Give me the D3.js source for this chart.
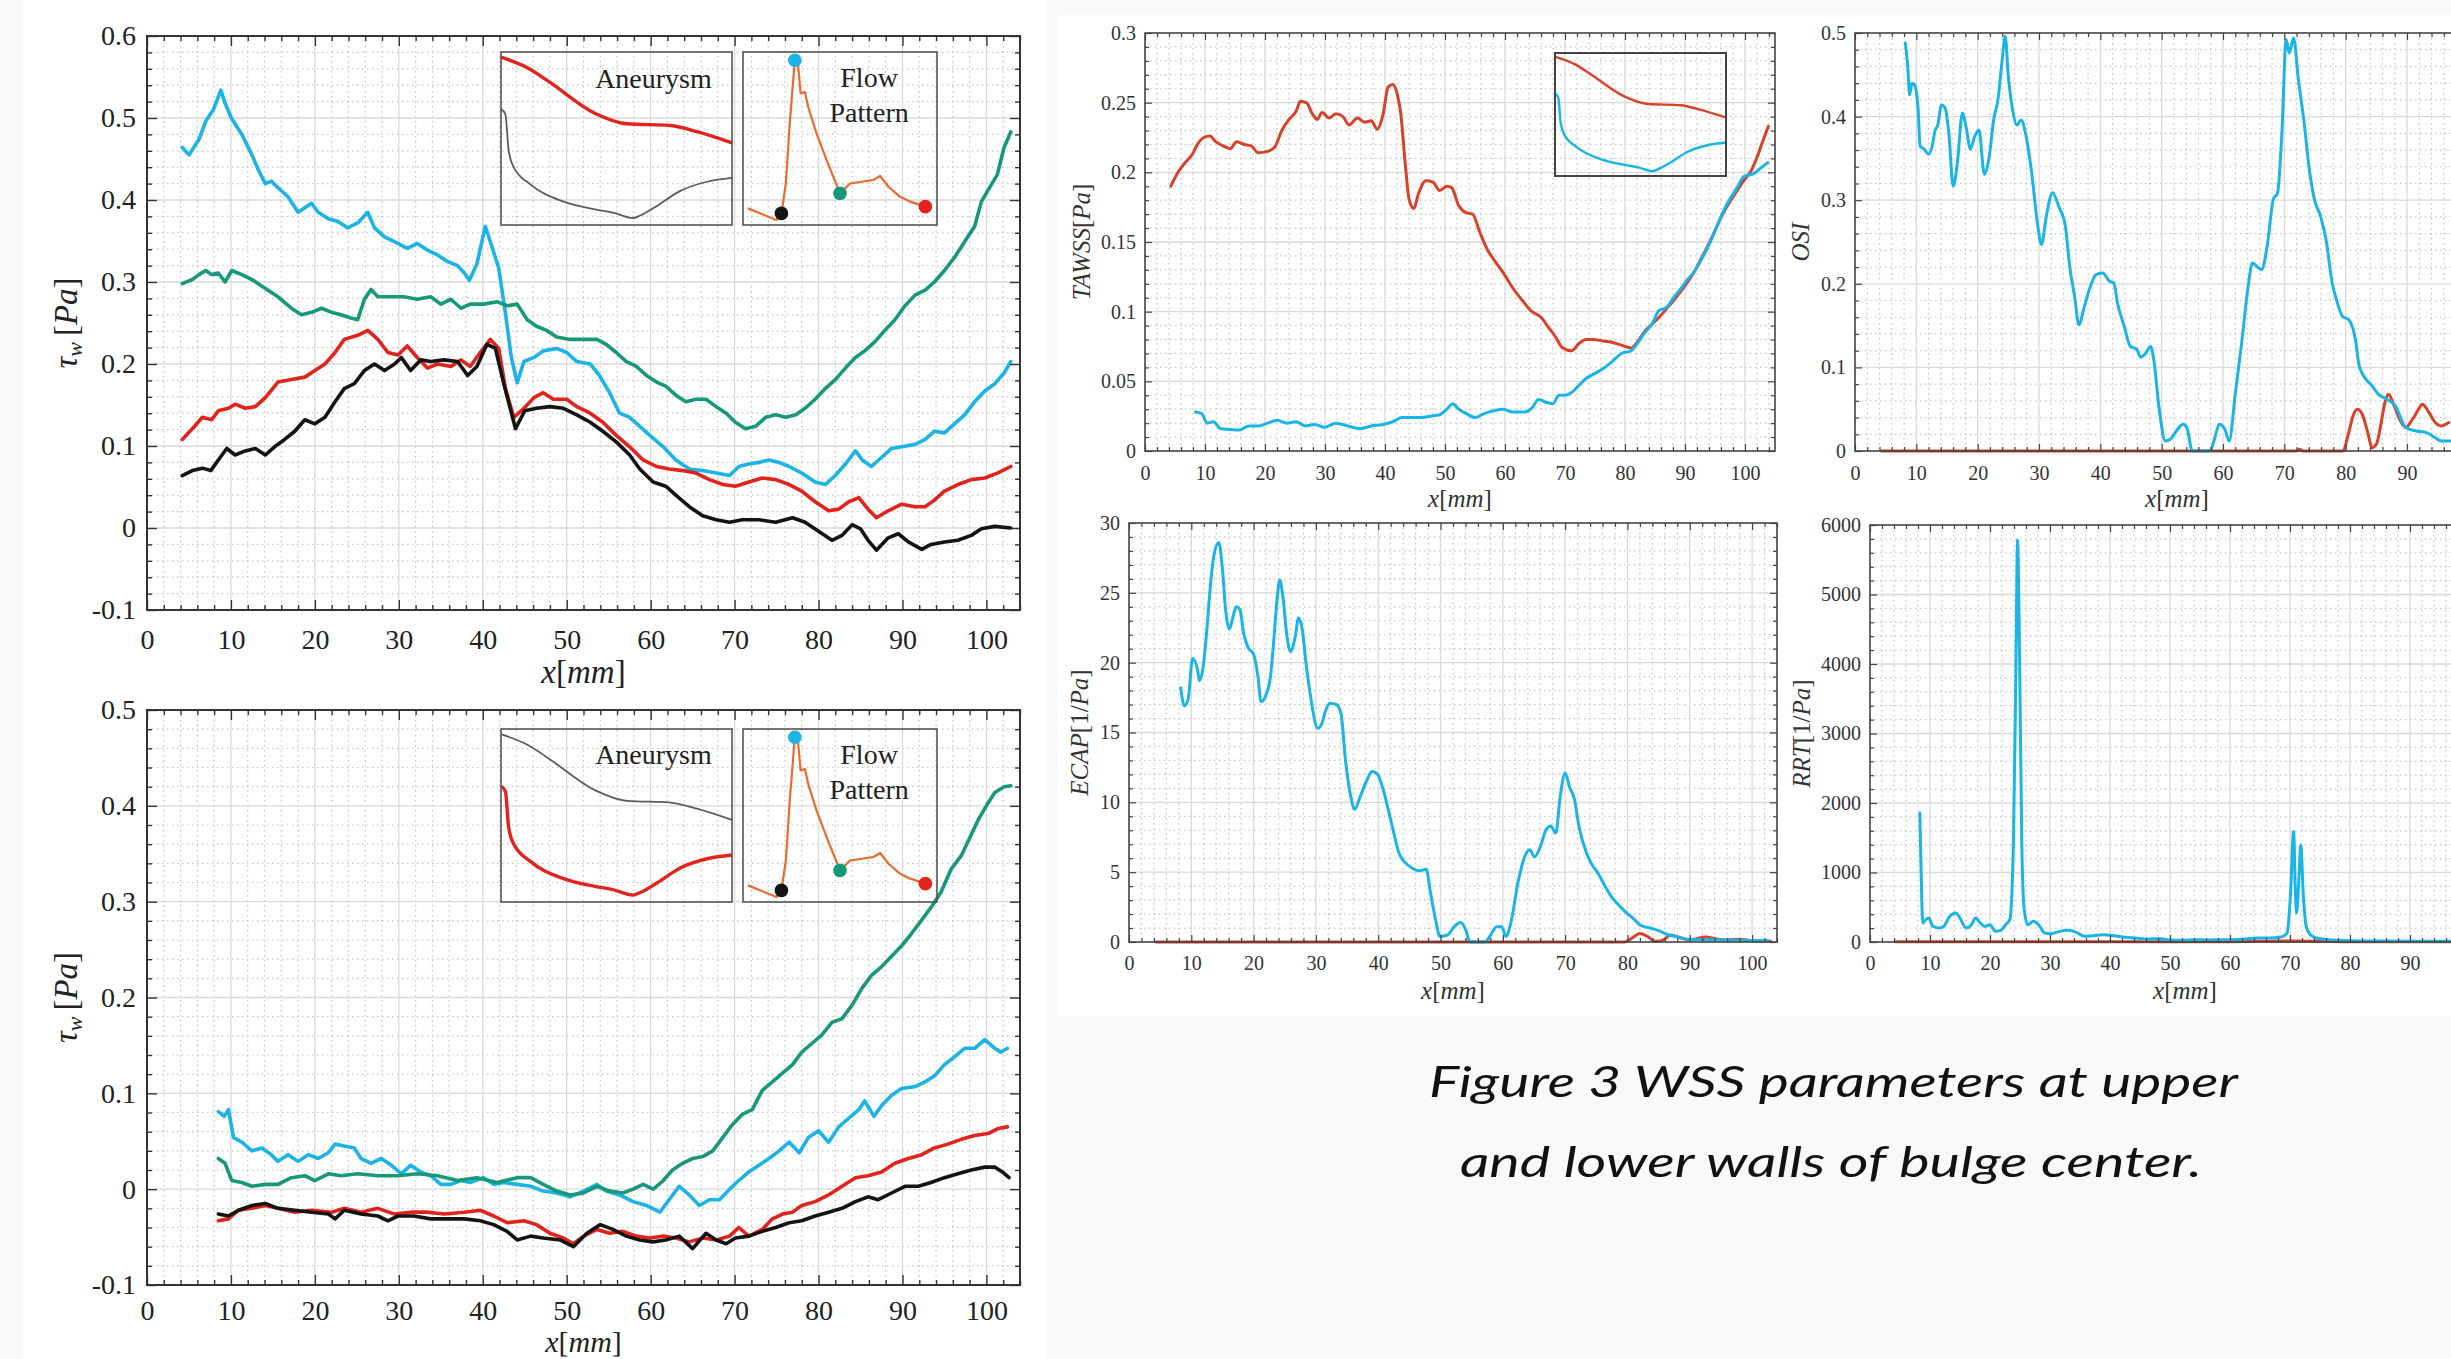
<!DOCTYPE html>
<html>
<head>
<meta charset="utf-8">
<script src="https://cdn.jsdelivr.net/npm/d3@7"></script>
<style>
  html, body { margin: 0; padding: 0; background: #f8f9fb; }
  svg { display: block; }
</style>
</head>
<body>
<svg id="fig" width="2451" height="1359"></svg>
<script>
// ---------- tick labels ----------
const xTicks100 = [0, 10, 20, 30, 40, 50, 60, 70, 80, 90, 100];
const tauUpperTicks = [-0.1, 0, 0.1, 0.2, 0.3, 0.4, 0.5, 0.6];
const tauLowerTicks = [-0.1, 0, 0.1, 0.2, 0.3, 0.4, 0.5];
const tawssTicks = [0, 0.05, 0.1, 0.15, 0.2, 0.25, 0.3];
const osiTicks = [0, 0.1, 0.2, 0.3, 0.4, 0.5];
const ecapTicks = [0, 5, 10, 15, 20, 25, 30];
const rrtTicks = [0, 1000, 2000, 3000, 4000, 5000, 6000];

// ---------- upper wall, wall shear stress at four instants [x mm, Pa] ----------
const upperPeak = [[4.2,0.464],[5.0,0.455],[6.2,0.474],[7.0,0.496],[7.9,0.51],[8.8,0.534],[9.3,0.518],[10.1,0.499],[11.3,0.48],[12.5,0.455],[13.3,0.436],[14.1,0.42],[14.8,0.423],[15.6,0.415],[16.8,0.404],[18.0,0.385],[19.6,0.396],[20.4,0.385],[21.6,0.377],[22.7,0.374],[23.9,0.366],[25.1,0.372],[26.3,0.385],[27.1,0.366],[28.3,0.355],[29.9,0.347],[31.0,0.341],[32.2,0.347],[33.4,0.339],[34.6,0.333],[35.8,0.325],[37.0,0.32],[37.8,0.311],[38.4,0.302],[39.3,0.322],[40.3,0.368],[40.9,0.349],[41.9,0.317],[42.7,0.262],[43.4,0.208],[44.1,0.177],[44.9,0.203],[46.1,0.208],[47.2,0.216],[48.8,0.219],[50.0,0.214],[51.2,0.203],[52.8,0.2],[53.9,0.186],[55.1,0.165],[56.3,0.14],[57.5,0.135],[58.7,0.124],[59.9,0.113],[61.5,0.099],[63.0,0.083],[64.6,0.072],[66.2,0.07],[67.8,0.067],[69.4,0.064],[70.5,0.075],[71.7,0.078],[72.9,0.08],[74.1,0.083],[75.3,0.08],[76.5,0.075],[78.0,0.067],[79.6,0.056],[80.8,0.053],[82.0,0.064],[83.2,0.078],[84.4,0.094],[85.2,0.083],[86.3,0.075],[87.5,0.086],[88.7,0.097],[89.9,0.099],[91.5,0.102],[92.7,0.108],[93.8,0.118],[95.0,0.116],[96.2,0.127],[97.4,0.138],[98.6,0.154],[99.8,0.167],[101.0,0.176],[102.1,0.189],[102.9,0.203]];
const upperDecel = [[4.2,0.298],[5.4,0.303],[6.2,0.309],[7.0,0.314],[7.7,0.309],[8.5,0.311],[9.3,0.3],[10.1,0.314],[11.3,0.309],[12.5,0.303],[14.1,0.292],[15.6,0.282],[17.2,0.268],[18.4,0.26],[19.6,0.263],[20.8,0.268],[22.0,0.263],[23.1,0.26],[24.3,0.256],[25.1,0.254],[25.9,0.279],[26.7,0.291],[27.5,0.282],[29.1,0.282],[30.6,0.282],[32.2,0.279],[33.8,0.282],[35.0,0.273],[36.2,0.279],[37.4,0.268],[38.5,0.273],[40.1,0.273],[41.7,0.276],[42.9,0.271],[44.1,0.273],[45.3,0.254],[46.4,0.246],[47.6,0.241],[48.8,0.233],[50.4,0.23],[52.0,0.23],[53.6,0.23],[54.7,0.224],[55.9,0.214],[57.1,0.203],[58.3,0.197],[59.5,0.186],[60.7,0.178],[61.8,0.173],[63.0,0.162],[64.2,0.154],[65.4,0.157],[66.6,0.157],[67.8,0.148],[69.0,0.14],[70.1,0.129],[71.3,0.121],[72.5,0.124],[73.7,0.135],[74.9,0.138],[76.1,0.135],[77.3,0.138],[78.4,0.146],[79.6,0.157],[80.8,0.17],[82.0,0.181],[83.2,0.195],[84.4,0.208],[85.5,0.216],[86.7,0.227],[87.9,0.241],[89.1,0.254],[90.3,0.271],[91.5,0.284],[92.7,0.29],[93.8,0.3],[95.0,0.314],[96.2,0.33],[97.4,0.349],[98.6,0.368],[99.4,0.398],[100.2,0.412],[101.3,0.431],[102.1,0.464],[102.9,0.483]];
const upperLate = [[4.2,0.108],[5.4,0.121],[6.6,0.135],[7.7,0.132],[8.5,0.143],[9.7,0.146],[10.5,0.151],[11.7,0.146],[12.9,0.148],[14.1,0.159],[15.6,0.178],[17.2,0.181],[18.8,0.184],[20.0,0.192],[21.2,0.2],[22.4,0.214],[23.5,0.23],[25.1,0.235],[26.3,0.241],[27.5,0.23],[28.7,0.214],[29.9,0.211],[31.0,0.222],[32.2,0.208],[33.4,0.195],[34.6,0.2],[36.2,0.197],[37.4,0.205],[38.5,0.197],[39.7,0.214],[40.9,0.23],[41.9,0.219],[42.7,0.17],[43.7,0.135],[44.9,0.146],[46.1,0.159],[47.2,0.165],[48.4,0.157],[50.0,0.157],[51.2,0.148],[52.8,0.14],[54.3,0.129],[55.9,0.113],[57.5,0.099],[59.1,0.083],[60.7,0.075],[62.2,0.072],[63.8,0.07],[65.4,0.067],[67.0,0.059],[68.6,0.053],[70.1,0.051],[71.7,0.056],[73.3,0.061],[74.9,0.059],[76.5,0.053],[78.0,0.045],[79.6,0.032],[81.2,0.021],[82.4,0.023],[83.6,0.032],[84.8,0.037],[85.9,0.023],[86.9,0.0125],[88.3,0.021],[89.9,0.029],[91.5,0.026],[92.7,0.026],[93.8,0.034],[95.0,0.045],[96.6,0.053],[98.2,0.059],[99.8,0.061],[101.3,0.067],[102.9,0.075]];
const upperStart = [[4.2,0.064],[5.4,0.07],[6.6,0.073],[7.6,0.07],[8.5,0.083],[9.5,0.097],[10.5,0.089],[11.7,0.094],[12.9,0.097],[14.1,0.089],[15.2,0.099],[16.4,0.108],[17.6,0.118],[18.8,0.132],[20.0,0.127],[21.2,0.135],[22.4,0.154],[23.5,0.17],[24.7,0.176],[25.9,0.192],[27.1,0.2],[28.3,0.192],[29.5,0.2],[30.3,0.208],[31.4,0.192],[32.6,0.205],[33.8,0.203],[35.4,0.205],[37.0,0.203],[38.2,0.186],[39.3,0.197],[40.5,0.224],[41.5,0.219],[42.5,0.176],[43.9,0.121],[45.0,0.143],[46.4,0.146],[48.0,0.148],[49.6,0.146],[51.2,0.138],[52.8,0.129],[54.3,0.118],[55.9,0.105],[57.5,0.089],[58.7,0.072],[60.3,0.056],[61.8,0.051],[63.0,0.04],[64.6,0.026],[66.2,0.015],[67.8,0.01],[69.4,0.007],[70.9,0.01],[72.9,0.01],[74.9,0.007],[76.9,0.0125],[78.4,0.007],[80.0,-0.004],[81.6,-0.015],[82.8,-0.009],[84.0,0.004],[85.0,-0.001],[85.9,-0.015],[86.9,-0.027],[88.3,-0.012],[89.5,-0.007],[90.7,-0.017],[92.3,-0.026],[93.4,-0.02],[95.0,-0.017],[96.6,-0.015],[98.2,-0.009],[99.4,-0.001],[101.0,0.002],[102.9,0.0]];

// ---------- lower wall, wall shear stress at four instants [x mm, Pa] ----------
const lowerPeak = [[8.5,0.081],[9.2,0.076],[9.7,0.083],[10.3,0.054],[11.3,0.049],[12.5,0.04],[13.7,0.043],[14.8,0.036],[15.6,0.029],[16.8,0.036],[18.0,0.029],[19.2,0.036],[20.4,0.032],[21.6,0.038],[22.4,0.047],[23.5,0.045],[24.7,0.043],[25.5,0.032],[26.7,0.027],[27.9,0.032],[29.1,0.025],[30.3,0.016],[31.4,0.025],[32.6,0.018],[33.8,0.014],[35.0,0.005],[36.2,0.005],[37.4,0.009],[38.5,0.007],[40.1,0.012],[41.3,0.005],[42.5,0.007],[44.1,0.005],[45.7,0.003],[47.2,-0.002],[48.8,-0.004],[50.4,-0.008],[52.0,-0.002],[53.6,0.005],[54.7,-0.002],[56.3,-0.006],[57.9,-0.013],[59.5,-0.017],[61.1,-0.024],[62.2,-0.011],[63.4,0.003],[64.6,-0.006],[65.8,-0.017],[67.0,-0.011],[68.2,-0.011],[69.4,0.0],[70.5,0.009],[71.7,0.018],[72.9,0.025],[74.1,0.032],[75.3,0.04],[76.5,0.049],[77.7,0.038],[78.8,0.054],[80.0,0.061],[81.2,0.049],[82.4,0.065],[83.6,0.074],[84.8,0.083],[85.5,0.092],[86.6,0.076],[87.5,0.087],[88.7,0.098],[89.9,0.105],[91.5,0.107],[92.7,0.112],[93.8,0.118],[95.0,0.13],[96.2,0.138],[97.4,0.147],[98.6,0.147],[99.8,0.156],[101.0,0.147],[101.7,0.143],[102.5,0.147]];
const lowerDecel = [[8.5,0.032],[9.3,0.027],[10.1,0.009],[11.3,0.007],[12.5,0.003],[14.1,0.005],[15.6,0.005],[17.2,0.012],[18.8,0.014],[20.0,0.009],[21.6,0.016],[23.1,0.014],[25.1,0.016],[27.5,0.014],[29.9,0.014],[32.2,0.016],[34.6,0.014],[37.0,0.009],[39.3,0.012],[41.7,0.007],[44.1,0.012],[45.7,0.012],[47.2,0.005],[48.8,-0.002],[50.4,-0.006],[52.0,-0.004],[53.6,0.003],[55.1,-0.002],[56.7,-0.004],[57.9,0.0],[59.1,0.005],[60.3,0.0],[61.5,0.009],[62.6,0.02],[63.8,0.027],[65.0,0.032],[66.2,0.034],[67.4,0.04],[68.6,0.054],[69.7,0.067],[70.9,0.078],[72.1,0.083],[73.3,0.103],[74.5,0.112],[75.7,0.121],[76.9,0.13],[78.0,0.143],[79.2,0.152],[80.4,0.161],[81.6,0.174],[82.8,0.178],[84.0,0.192],[85.2,0.21],[86.3,0.223],[87.5,0.232],[88.7,0.243],[89.9,0.254],[91.1,0.267],[92.3,0.281],[93.4,0.294],[94.6,0.31],[95.8,0.334],[97.0,0.348],[98.2,0.37],[99.0,0.385],[100.2,0.403],[101.0,0.414],[102.1,0.42],[102.9,0.421]];
const lowerLate = [[8.5,-0.033],[9.7,-0.031],[10.9,-0.022],[12.5,-0.02],[14.1,-0.017],[15.6,-0.02],[17.6,-0.024],[19.6,-0.022],[22.0,-0.024],[23.5,-0.02],[25.5,-0.024],[27.5,-0.02],[29.5,-0.026],[31.4,-0.024],[33.4,-0.024],[35.4,-0.026],[37.8,-0.024],[39.7,-0.022],[41.3,-0.028],[42.9,-0.035],[44.9,-0.033],[46.4,-0.037],[48.0,-0.046],[49.6,-0.051],[50.8,-0.057],[52.0,-0.049],[53.6,-0.042],[55.1,-0.046],[56.7,-0.044],[58.3,-0.049],[59.9,-0.051],[61.5,-0.049],[63.0,-0.051],[64.6,-0.055],[66.2,-0.051],[67.8,-0.053],[69.4,-0.049],[70.5,-0.04],[71.7,-0.049],[73.3,-0.042],[74.5,-0.031],[75.7,-0.026],[76.9,-0.024],[78.0,-0.017],[79.6,-0.013],[81.2,-0.006],[82.8,0.003],[84.4,0.012],[85.9,0.014],[87.5,0.018],[89.1,0.027],[90.7,0.032],[92.3,0.036],[93.8,0.043],[95.4,0.047],[97.0,0.052],[98.6,0.056],[100.2,0.058],[101.3,0.063],[102.5,0.065]];
const lowerStart = [[8.5,-0.026],[9.7,-0.028],[10.9,-0.022],[12.5,-0.017],[14.1,-0.015],[15.6,-0.02],[17.6,-0.022],[19.6,-0.024],[21.6,-0.026],[22.4,-0.031],[23.5,-0.022],[25.5,-0.026],[27.5,-0.028],[28.7,-0.033],[29.9,-0.028],[31.8,-0.028],[33.8,-0.031],[35.8,-0.031],[37.8,-0.031],[39.7,-0.033],[41.3,-0.037],[42.9,-0.044],[44.1,-0.053],[45.7,-0.049],[47.2,-0.051],[49.2,-0.053],[50.8,-0.06],[52.4,-0.046],[54.0,-0.037],[55.5,-0.042],[57.1,-0.049],[58.7,-0.053],[60.3,-0.055],[61.8,-0.053],[63.4,-0.049],[65.0,-0.062],[66.6,-0.046],[67.8,-0.053],[69.0,-0.057],[70.1,-0.051],[71.7,-0.049],[73.3,-0.044],[74.9,-0.04],[76.5,-0.035],[78.0,-0.033],[79.6,-0.028],[81.2,-0.024],[82.8,-0.02],[84.4,-0.013],[85.9,-0.008],[87.1,-0.011],[88.7,-0.004],[90.3,0.003],[91.9,0.003],[93.4,0.007],[95.0,0.012],[96.6,0.016],[98.2,0.02],[99.8,0.023],[101.0,0.023],[101.9,0.018],[102.7,0.012]];

// ---------- time-averaged indices: upper wall (red) and lower wall (cyan) ----------
const tawssUpper = [[4.3,0.19],[5.5,0.2],[6.7,0.207],[7.9,0.213],[8.6,0.219],[9.8,0.225],[10.8,0.226],[11.8,0.222],[13.0,0.219],[14.2,0.217],[15.3,0.222],[16.5,0.22],[17.7,0.219],[18.9,0.214],[20.4,0.215],[21.6,0.218],[22.8,0.23],[24.0,0.238],[25.2,0.244],[25.9,0.251],[26.9,0.25],[27.9,0.242],[28.7,0.238],[29.5,0.243],[30.7,0.239],[31.8,0.242],[33.0,0.24],[34.0,0.234],[35.4,0.239],[36.6,0.236],[37.7,0.237],[38.7,0.231],[39.7,0.242],[40.5,0.261],[41.3,0.263],[42.1,0.255],[42.6,0.243],[43.4,0.205],[44.0,0.181],[44.8,0.174],[45.6,0.185],[46.8,0.194],[48.0,0.193],[49.1,0.187],[50.3,0.19],[51.1,0.189],[52.3,0.176],[53.5,0.171],[54.6,0.17],[55.8,0.157],[57.0,0.145],[58.2,0.137],[59.7,0.128],[61.3,0.117],[62.9,0.108],[64.5,0.1],[66.0,0.096],[67.2,0.089],[68.4,0.082],[69.6,0.074],[71.1,0.072],[72.3,0.077],[73.5,0.08],[74.7,0.08],[76.3,0.079],[77.8,0.078],[79.4,0.076],[81.0,0.074],[82.2,0.079],[83.3,0.086],[84.5,0.091],[85.7,0.096],[86.9,0.102],[88.1,0.108],[89.2,0.114],[90.4,0.121],[91.6,0.129],[92.8,0.139],[93.9,0.148],[95.1,0.159],[96.3,0.17],[97.5,0.179],[98.7,0.187],[99.8,0.194],[101.0,0.201],[102.2,0.213],[103.1,0.224],[103.9,0.233]];
const tawssLower = [[8.4,0.028],[9.4,0.027],[10.4,0.02],[11.4,0.021],[12.6,0.016],[14.2,0.0155],[15.7,0.015],[17.3,0.018],[18.9,0.018],[20.4,0.02],[22.0,0.022],[23.6,0.02],[25.2,0.021],[26.7,0.018],[28.3,0.019],[29.9,0.017],[31.8,0.02],[33.8,0.018],[35.8,0.016],[37.7,0.018],[39.7,0.019],[41.3,0.021],[42.8,0.024],[44.4,0.024],[46.0,0.024],[47.6,0.025],[49.1,0.026],[50.3,0.03],[51.3,0.034],[52.3,0.03],[53.5,0.027],[55.0,0.024],[56.6,0.027],[58.2,0.029],[59.7,0.03],[61.3,0.028],[63.3,0.028],[64.5,0.031],[65.6,0.037],[66.8,0.035],[68.0,0.034],[69.0,0.04],[70.0,0.04],[71.1,0.042],[72.3,0.047],[73.5,0.052],[74.7,0.055],[76.3,0.059],[77.8,0.064],[79.4,0.07],[81.0,0.072],[82.2,0.078],[83.3,0.085],[84.5,0.091],[85.7,0.101],[86.9,0.103],[88.1,0.11],[89.2,0.116],[90.4,0.123],[91.6,0.129],[92.8,0.138],[93.9,0.147],[95.1,0.159],[96.3,0.171],[97.5,0.181],[98.7,0.189],[99.8,0.197],[101.4,0.199],[102.6,0.203],[103.8,0.207]];
const osiUpper = [[4.3,0],[72.0,0],[72.5,0.002],[73.0,0],[79.5,0],[80.5,0.022],[81.2,0.042],[81.9,0.05],[82.7,0.044],[83.6,0.022],[84.3,0.004],[85.0,0.008],[85.7,0.03],[86.4,0.058],[87.0,0.068],[87.7,0.058],[88.8,0.038],[89.8,0.028],[90.9,0.038],[91.9,0.05],[92.5,0.056],[93.6,0.046],[94.6,0.034],[95.6,0.03],[96.8,0.034]];
const osiLower = [[8.2,0.488],[8.6,0.46],[8.9,0.426],[9.3,0.44],[9.7,0.438],[10.3,0.408],[10.6,0.365],[11.3,0.361],[12.0,0.355],[12.7,0.369],[13.0,0.382],[13.5,0.39],[14.1,0.414],[14.7,0.41],[15.3,0.38],[16.0,0.317],[16.7,0.345],[17.5,0.404],[18.2,0.384],[18.8,0.361],[19.5,0.376],[20.2,0.384],[21.1,0.331],[21.9,0.353],[22.6,0.396],[23.3,0.42],[24.0,0.468],[24.5,0.496],[25.0,0.448],[25.7,0.408],[26.4,0.39],[27.1,0.396],[27.8,0.38],[28.8,0.333],[29.8,0.269],[30.4,0.247],[31.2,0.281],[32.2,0.309],[33.2,0.293],[34.3,0.269],[35.0,0.221],[35.8,0.185],[36.5,0.151],[37.4,0.173],[38.2,0.193],[39.3,0.211],[40.4,0.213],[41.5,0.203],[42.2,0.201],[42.8,0.177],[43.9,0.149],[44.9,0.125],[45.9,0.122],[46.6,0.112],[47.3,0.116],[48.2,0.125],[48.7,0.11],[49.6,0.05],[50.6,0.012],[51.4,0.014],[52.4,0.024],[53.5,0.032],[54.1,0.028],[55.0,0],[56.2,0],[57.9,0],[58.6,0.014],[59.4,0.032],[60.3,0.026],[61.0,0.012],[62.0,0.068],[63.1,0.133],[64.1,0.197],[64.8,0.225],[65.5,0.221],[66.3,0.217],[67.2,0.245],[68.2,0.301],[68.9,0.309],[69.6,0.38],[70.3,0.492],[70.8,0.476],[71.5,0.494],[72.3,0.444],[73.3,0.388],[74.0,0.341],[74.9,0.301],[75.9,0.281],[76.8,0.253],[77.8,0.201],[78.5,0.181],[79.5,0.161],[80.5,0.157],[81.6,0.133],[82.2,0.102],[83.3,0.086],[84.3,0.078],[85.3,0.068],[86.7,0.062],[88.1,0.054],[89.8,0.028],[91.5,0.024],[93.2,0.022],[94.6,0.016],[95.6,0.012],[97.0,0.012]];
const ecapUpper = [[4.3,0],[79.5,0],[80.8,0.3],[82.0,0.6],[83.2,0.4],[84.5,0.05],[85.5,0.1],[87.0,0.5],[88.5,0.3],[90.0,0.15],[92.5,0.35],[94.5,0.2],[96.0,0.15],[98.0,0.2],[100.0,0.1],[103.0,0.05]];
const ecapLower = [[8.3,18.2],[8.9,16.9],[9.5,17.4],[10.2,20.3],[11.0,19.5],[11.3,18.7],[11.9,19.7],[12.5,22.4],[13.1,25.7],[13.6,27.6],[14.4,28.6],[15.0,26.7],[15.5,23.8],[16.1,22.4],[16.6,23.1],[17.2,24.0],[17.8,23.8],[18.4,22.1],[19.1,21.1],[20.0,20.6],[20.7,19.0],[21.2,17.2],[21.9,17.6],[22.7,19.0],[23.2,21.4],[23.8,24.7],[24.2,25.9],[24.7,24.7],[25.3,22.1],[25.9,20.8],[26.7,21.9],[27.2,23.2],[27.8,22.4],[28.4,20.0],[29.1,17.7],[30.3,15.3],[31.0,15.7],[31.5,16.5],[32.3,17.1],[33.3,17.0],[34.0,16.4],[34.8,12.8],[35.6,10.4],[36.2,9.5],[37.1,10.4],[38.2,11.6],[39.0,12.2],[39.9,12.0],[40.8,10.9],[41.6,9.5],[42.4,8.0],[43.3,6.4],[44.3,5.7],[45.4,5.3],[46.5,5.1],[47.7,5.2],[48.4,3.5],[49.2,1.6],[49.9,0.4],[51.1,0.5],[52.2,1.1],[53.2,1.4],[54.1,0.8],[54.7,0],[57.1,0],[57.9,0.4],[59.0,1.1],[59.8,1.1],[60.5,0.4],[61.3,1.4],[62.4,4.2],[63.5,6.1],[64.3,6.6],[65.1,6.1],[66.0,6.8],[66.9,8.0],[67.7,8.3],[68.5,7.8],[69.2,10.4],[70.0,12.1],[70.7,11.1],[71.5,10.2],[72.2,8.3],[73.4,6.4],[74.1,5.7],[75.3,4.9],[76.4,4.0],[77.5,3.2],[78.7,2.6],[79.8,2.1],[80.9,1.7],[82.1,1.2],[83.6,1.0],[85.1,0.8],[86.6,0.5],[88.1,0.36],[89.6,0.2],[91.9,0.17],[94.9,0.17],[98.0,0.12],[101.0,0.1],[102.5,0.1]];
const rrtUpper = [[4.3,5],[60.0,5],[70.0,15],[75.0,12],[80.0,5],[103.0,5]];
const rrtLower = [[8.3,1855],[8.6,704],[8.8,273],[9.3,321],[9.8,345],[10.5,225],[11.6,201],[12.3,225],[13.3,369],[14.3,417],[15.0,345],[16.0,201],[16.9,249],[17.6,345],[18.4,273],[19.1,225],[20.0,249],[20.9,153],[21.8,168],[22.6,249],[23.3,321],[23.9,1423],[24.3,3819],[24.6,5784],[24.9,4298],[25.3,1423],[25.7,465],[26.3,249],[27.2,297],[28.1,249],[29.1,129],[30.2,120],[31.6,153],[33.0,168],[34.4,139],[35.8,81],[37.2,91],[39.0,105],[40.7,91],[42.5,67],[44.2,58],[46.3,43],[48.5,48],[50.2,24],[52.0,24],[54.1,34],[56.2,29],[58.3,34],[60.4,34],[62.5,43],[64.6,58],[66.7,58],[68.5,72],[69.5,129],[70.1,704],[70.6,1591],[70.9,704],[71.1,417],[71.5,944],[71.8,1399],[72.2,704],[72.7,225],[73.4,105],[74.4,58],[76.5,34],[80.1,19],[85.0,14],[92.0,10],[97.0,10]];

// ---------- inset sketches, box-local units (0..100 across, 0..100 down) ----------
const upperWallShape = [[0,3],[12,9.5],[20.6,17],[40.8,35.5],[54.5,41.5],[73.3,42.5],[84.8,46],[100,52.5]];
const lowerWallShape = [[0,33],[1.9,36],[3.3,56.7],[5.5,66.5],[12.7,76.5],[27.1,86.5],[40.8,91],[48.8,93],[57,96],[60.3,94.5],[67.5,89],[77.6,80.3],[89.2,75],[100,72.8]];
const flowWave = [[2.6,90.4],[17.2,97.1],[19.8,93.3],[22.1,76],[24.1,41.3],[26.7,4.8],[28.4,7.7],[29.7,24],[31.9,23.1],[33.6,31.7],[37.9,47.1],[43.1,62.5],[50,81.7],[55.2,76],[67.2,74],[70.7,71.7],[75,77.9],[81,83.7],[86.2,86.5],[94,89.4]];
const flowInstants = [[19.8,93.3],[26.7,4.8],[50,81.7],[94,89.4]];

// ---------- styling ----------
const CYAN = "#1cb3e6", TEAL = "#17987a", RED = "#e2231d", BLACK = "#141414";
const RED_R = "#d8422a", CYAN_R = "#1bb4e6", ORANGE = "#ea6a30", GRAY = "#5c5c5c";
const instantColors = [BLACK, CYAN, TEAL, RED];
const SERIF = "'Liberation Serif', 'Times New Roman', serif";
const PAGE_W = 2451;

const svg = d3.select("#fig");

// page pieces: two white figure tiles on the light page
svg.append("rect").attr("x", 22).attr("y", 0).attr("width", 1024).attr("height", 1359).attr("fill", "#ffffff");
svg.append("rect").attr("x", 1058).attr("y", 15).attr("width", 1393).attr("height", 1001).attr("fill", "#ffffff");

let clipId = 0;

function minorValues(domain, step, majors) {
  const n0 = Math.ceil(domain[0] / step - 1e-9), n1 = Math.floor(domain[1] / step + 1e-9);
  const out = [];
  for (let i = n0; i <= n1; i++) {
    const v = +(i * step).toFixed(6);
    if (!majors.some(m => Math.abs(m - v) < step * 1e-3)) out.push(v);
  }
  return out;
}

function label(g, parts, fs, attrs) {
  const t = g.append("text")
    .attr("font-family", SERIF).attr("font-size", fs).attr("fill", attrs.fill || "#222")
    .attr("text-anchor", "middle");
  if (attrs.rotate) {
    t.attr("transform", `translate(${attrs.x},${attrs.y}) rotate(-90)`).attr("dominant-baseline", "central");
  } else {
    t.attr("x", attrs.x).attr("y", attrs.y);
  }
  parts.forEach(p => {
    const s = t.append("tspan").text(p.t).attr("font-style", p.i ? "italic" : "normal");
    if (p.dy) s.attr("dy", p.dy);
    if (p.dx) s.attr("dx", p.dx);
    if (p.fs) s.attr("font-size", p.fs);
  });
  return t;
}

function drawPanel(o) {
  const g = svg.append("g");
  const x = d3.scaleLinear().domain(o.xDomain).range([o.left, o.left + o.width]);
  const y = d3.scaleLinear().domain(o.yDomain).range([o.top + o.height, o.top]);
  const x0 = o.left, x1 = o.left + o.width, y0 = o.top, y1 = o.top + o.height;

  // dotted minor grid
  const xMin = minorValues(o.xDomain, o.xMinor, o.xTicks);
  const yMin = minorValues(o.yDomain, o.yMinor, o.yTicks);
  const grid = g.append("g").attr("stroke", "#c4c4c4").attr("stroke-width", 1.2).attr("stroke-dasharray", "1.4 3.6");
  grid.selectAll(".vx").data(xMin).join("line").attr("x1", d => x(d)).attr("x2", d => x(d)).attr("y1", y0).attr("y2", y1);
  grid.selectAll(".hy").data(yMin).join("line").attr("y1", d => y(d)).attr("y2", d => y(d)).attr("x1", x0).attr("x2", x1);
  // solid major grid
  const major = g.append("g").attr("stroke", "#dadada").attr("stroke-width", 1.3);
  major.selectAll(".mx").data(o.xTicks.filter(v => v > o.xDomain[0] && v < o.xDomain[1])).join("line")
    .attr("x1", d => x(d)).attr("x2", d => x(d)).attr("y1", y0).attr("y2", y1);
  major.selectAll(".my").data(o.yTicks.filter(v => v > o.yDomain[0] && v < o.yDomain[1])).join("line")
    .attr("y1", d => y(d)).attr("y2", d => y(d)).attr("x1", x0).attr("x2", x1);

  // data lines, clipped to the plot box
  const cid = "clip" + (clipId++);
  g.append("clipPath").attr("id", cid).append("rect").attr("x", x0).attr("y", y0 - 2).attr("width", o.width).attr("height", o.height + 4);
  const line = d3.line().x(d => x(d[0])).y(d => y(d[1])).curve(o.curve || d3.curveLinear);
  const lines = g.append("g").attr("clip-path", `url(#${cid})`);
  o.series.forEach(s => {
    lines.append("path").datum(s.data).attr("d", line).attr("fill", "none")
      .attr("stroke", s.color).attr("stroke-width", s.width || o.lineWidth)
      .attr("stroke-linejoin", "round").attr("stroke-linecap", "round");
  });

  // x tick labels only where they land on the page
  const xFmt = d => (x(d) + 16 > PAGE_W ? "" : o.xFormat(d));

  // inward ticks on all four sides
  const tickCol = o.axisColor;
  const axes = [
    { ax: d3.axisBottom(x).tickValues(o.xTicks).tickFormat(xFmt).tickPadding(o.xPad), tr: `translate(0,${y1})` },
    { ax: d3.axisLeft(y).tickValues(o.yTicks).tickFormat(o.yFormat).tickPadding(o.yPad), tr: `translate(${x0},0)` },
    { ax: d3.axisTop(x).tickValues(o.xTicks).tickFormat(() => ""), tr: `translate(0,${y0})` },
    { ax: d3.axisRight(y).tickValues(o.yTicks).tickFormat(() => ""), tr: `translate(${x1},0)` }
  ];
  axes.forEach(a => {
    a.ax.tickSizeInner(-o.tickLen).tickSizeOuter(0);
    const ag = g.append("g").attr("transform", a.tr).call(a.ax);
    ag.select(".domain").remove();
    ag.selectAll("line").attr("stroke", tickCol).attr("stroke-width", o.tickWidth);
    ag.selectAll("text").attr("font-family", SERIF).attr("font-size", o.fs).attr("fill", o.labelColor);
  });
  const minorAxes = [
    { ax: d3.axisBottom(x).tickValues(xMin), tr: `translate(0,${y1})` },
    { ax: d3.axisTop(x).tickValues(xMin), tr: `translate(0,${y0})` },
    { ax: d3.axisLeft(y).tickValues(yMin), tr: `translate(${x0},0)` },
    { ax: d3.axisRight(y).tickValues(yMin), tr: `translate(${x1},0)` }
  ];
  minorAxes.forEach(a => {
    a.ax.tickSizeInner(-o.minorLen).tickSizeOuter(0).tickFormat(() => "");
    const ag = g.append("g").attr("transform", a.tr).call(a.ax);
    ag.select(".domain").remove();
    ag.selectAll("line").attr("stroke", tickCol).attr("stroke-width", o.tickWidth);
  });

  // axes box
  g.append("rect").attr("x", x0).attr("y", y0).attr("width", o.width).attr("height", o.height)
    .attr("fill", "none").attr("stroke", o.axisColor).attr("stroke-width", o.boxWidth);

  // axis titles
  label(g, o.xTitle, o.xTitleFs || o.titleFs, { x: (x0 + x1) / 2, y: o.xTitleY, fill: o.labelColor });
  label(g, o.yTitle, o.titleFs, { x: o.yTitleX, y: (y0 + y1) / 2, rotate: true, fill: o.labelColor });
  return { g, x, y };
}

function drawWallInset(g, box, upperStyle, lowerStyle, text) {
  const sx = d3.scaleLinear().domain([0, 100]).range([box.x, box.x + box.w]);
  const sy = d3.scaleLinear().domain([0, 100]).range([box.y, box.y + box.h]);
  const line = d3.line().x(d => sx(d[0])).y(d => sy(d[1])).curve(d3.curveMonotoneX);
  g.append("path").datum(upperWallShape).attr("d", line).attr("fill", "none")
    .attr("stroke", upperStyle.color).attr("stroke-width", upperStyle.width);
  g.append("path").datum(lowerWallShape).attr("d", line).attr("fill", "none")
    .attr("stroke", lowerStyle.color).attr("stroke-width", lowerStyle.width);
  g.append("rect").attr("x", box.x).attr("y", box.y).attr("width", box.w).attr("height", box.h)
    .attr("fill", "none").attr("stroke", box.stroke || "#555").attr("stroke-width", box.sw || 1.6);
  if (text) {
    g.append("text").attr("x", sx(text.u)).attr("y", sy(text.v)).attr("text-anchor", "middle")
      .attr("font-family", SERIF).attr("font-size", 28).attr("fill", "#222").text(text.t);
  }
}

function drawFlowInset(g, box) {
  const sx = d3.scaleLinear().domain([0, 100]).range([box.x, box.x + box.w]);
  const sy = d3.scaleLinear().domain([0, 100]).range([box.y, box.y + box.h]);
  const line = d3.line().x(d => sx(d[0])).y(d => sy(d[1]));
  g.append("path").datum(flowWave).attr("d", line).attr("fill", "none")
    .attr("stroke", ORANGE).attr("stroke-width", 2.2).attr("stroke-linejoin", "round");
  g.selectAll(null).data(flowInstants).join("circle")
    .attr("cx", d => sx(d[0])).attr("cy", d => sy(d[1])).attr("r", 6.8)
    .attr("fill", (d, i) => instantColors[i]);
  g.append("rect").attr("x", box.x).attr("y", box.y).attr("width", box.w).attr("height", box.h)
    .attr("fill", "none").attr("stroke", "#555").attr("stroke-width", 1.6);
  g.append("text").attr("x", sx(65)).attr("y", box.y + 35).attr("text-anchor", "middle")
    .attr("font-family", SERIF).attr("font-size", 28).attr("fill", "#222").text("Flow");
  g.append("text").attr("x", sx(65)).attr("y", box.y + 70).attr("text-anchor", "middle")
    .attr("font-family", SERIF).attr("font-size", 28).attr("fill", "#222").text("Pattern");
}

const fmtTau = d => d === 0 ? "0" : d3.format(".1f")(d).replace("\u2212", "-");
const fmtInt = d => String(d);
const fmtTrim = d => d === 0 ? "0" : String(+d.toFixed(2));

const tauTitle = [{ t: "\u03c4", i: true }, { t: "w", i: true, dy: 8, fs: 22 }, { t: "[", dy: -8, dx: 6 }, { t: "Pa", i: true }, { t: "]" }];
const xmmTitle = [{ t: "x", i: true }, { t: "[" }, { t: "mm", i: true }, { t: "]" }];

const leftStyle = {
  xDomain: [0, 104], xTicks: xTicks100, xMinor: 2, xFormat: fmtInt, yFormat: fmtTau,
  fs: 28, titleFs: 33, xPad: 19, yPad: 11, tickLen: 10, minorLen: 5, tickWidth: 1.4, boxWidth: 2,
  axisColor: "#333", labelColor: "#222", lineWidth: 3.6, curve: d3.curveLinear,
  left: 147, width: 873, xTitle: xmmTitle, yTitle: tauTitle, yTitleX: 66
};

// upper wall
const pUp = drawPanel(Object.assign({}, leftStyle, {
  top: 36, height: 574, yDomain: [-0.1, 0.6], yTicks: tauUpperTicks, yMinor: 0.02, xTitleY: 683,
  series: [
    { data: upperPeak, color: CYAN }, { data: upperDecel, color: TEAL },
    { data: upperLate, color: RED }, { data: upperStart, color: BLACK }
  ]
}));
drawWallInset(pUp.g, { x: 501, y: 52, w: 231, h: 173 }, { color: RED, width: 3.4 }, { color: GRAY, width: 1.8 }, { t: "Aneurysm", u: 66, v: 21 });
drawFlowInset(pUp.g, { x: 743, y: 52, w: 194, h: 173 });

// lower wall
const pLow = drawPanel(Object.assign({}, leftStyle, {
  top: 710, height: 575, yDomain: [-0.1, 0.5], yTicks: tauLowerTicks, yMinor: 0.02,
  xPad: 15, xTitleY: 1352, xTitleFs: 30,
  series: [
    { data: lowerPeak, color: CYAN }, { data: lowerDecel, color: TEAL },
    { data: lowerLate, color: RED }, { data: lowerStart, color: BLACK }
  ]
}));
drawWallInset(pLow.g, { x: 501, y: 729, w: 231, h: 173 }, { color: GRAY, width: 1.8 }, { color: RED, width: 3.4 }, { t: "Aneurysm", u: 66, v: 20.5 });
drawFlowInset(pLow.g, { x: 743, y: 729, w: 194, h: 173 });

const rightStyle = {
  xTicks: xTicks100, xMinor: 2, xFormat: fmtInt,
  fs: 20, titleFs: 25, xPad: 15, yPad: 9, tickLen: 7, minorLen: 4, tickWidth: 1.2, boxWidth: 1.6,
  axisColor: "#444", labelColor: "#333", lineWidth: 3, curve: d3.curveMonotoneX, xTitle: xmmTitle
};

// TAWSS
const pT = drawPanel(Object.assign({}, rightStyle, {
  left: 1145, width: 630, top: 33, height: 418, xDomain: [0, 105],
  yDomain: [0, 0.3], yTicks: tawssTicks, yMinor: 0.01, yFormat: fmtTrim, xTitleY: 507,
  yTitle: [{ t: "TAWSS", i: true }, { t: "[" }, { t: "Pa", i: true }, { t: "]" }], yTitleX: 1081,
  series: [{ data: tawssUpper, color: RED_R }, { data: tawssLower, color: CYAN_R }]
}));
drawWallInset(pT.g, { x: 1555, y: 53, w: 171, h: 123, stroke: "#444", sw: 2 }, { color: RED_R, width: 2.4 }, { color: CYAN_R, width: 2.4 }, null);

// OSI
drawPanel(Object.assign({}, rightStyle, {
  left: 1855, width: 644, top: 33, height: 418, xDomain: [0, 105],
  yDomain: [0, 0.5], yTicks: osiTicks, yMinor: 0.02, yFormat: fmtTrim, xTitleY: 507,
  yTitle: [{ t: "OSI", i: true }], yTitleX: 1800,
  series: [{ data: osiUpper, color: RED_R }, { data: osiLower, color: CYAN_R }]
}));

// ECAP
drawPanel(Object.assign({}, rightStyle, {
  left: 1129, width: 648, top: 523, height: 419, xDomain: [0, 104],
  yDomain: [0, 30], yTicks: ecapTicks, yMinor: 1, yFormat: fmtInt, xTitleY: 999, xPad: 14,
  yTitle: [{ t: "ECAP", i: true }, { t: "[1/" }, { t: "Pa", i: true }, { t: "]" }], yTitleX: 1079,
  series: [{ data: ecapUpper, color: RED_R }, { data: ecapLower, color: CYAN_R }]
}));

// RRT
drawPanel(Object.assign({}, rightStyle, {
  left: 1870, width: 630, top: 525, height: 417, xDomain: [0, 105],
  yDomain: [0, 6000], yTicks: rrtTicks, yMinor: 200, yFormat: fmtInt, xTitleY: 999, xPad: 14,
  yTitle: [{ t: "RRT", i: true }, { t: "[1/" }, { t: "Pa", i: true }, { t: "]" }], yTitleX: 1801,
  series: [{ data: rrtUpper, color: RED_R }, { data: rrtLower, color: CYAN_R }]
}));

// caption
const capLines = ["Figure 3 WSS parameters at upper", "and lower walls of bulge center."];
const capGeom = [{ x: 1429, y: 1097, w: 809 }, { x: 1460, y: 1177, w: 742 }];
capLines.forEach((t, i) => {
  svg.append("text").attr("x", capGeom[i].x).attr("y", capGeom[i].y)
    .attr("font-family", "Lato, 'Open Sans', sans-serif").attr("font-style", "italic")
    .attr("font-size", 42).attr("fill", "#111")
    .attr("textLength", capGeom[i].w).attr("lengthAdjust", "spacingAndGlyphs").text(t);
});
</script>
</body>
</html>
